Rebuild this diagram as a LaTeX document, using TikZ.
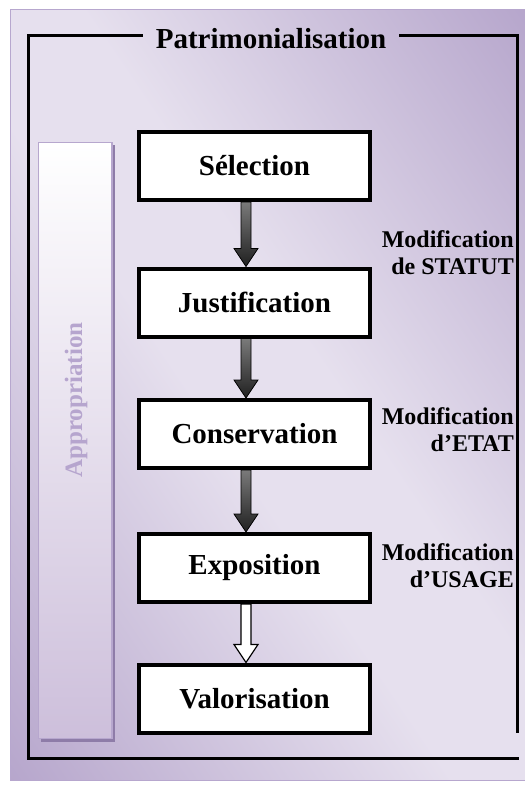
\documentclass[tikz,border=0pt]{standalone}
\usepackage{fontspec}
\setmainfont{Liberation Serif}
\usetikzlibrary{calc,shadows}
\definecolor{plight}{HTML}{E6E0EE}
\definecolor{pdark}{HTML}{AE9CC6}
\definecolor{pedge}{HTML}{B7A7CE}
\definecolor{barbot}{HTML}{CDBFDB}
\definecolor{barshadow}{HTML}{8E7CA8}
\definecolor{apptext}{HTML}{B6A5CE}
\definecolor{arrtop}{HTML}{7A7A7A}
\definecolor{arrbot}{HTML}{202020}
\pgfdeclareverticalshading{bgshade}{100bp}{color(0bp)=(pdark); color(10bp)=(pdark); color(45bp)=(plight); color(55bp)=(plight); color(90bp)=(pdark); color(100bp)=(pdark)}
\newcommand\flowarrow[3]{%
  \path[#1] let \p1=($(#2.south)+(-8.5pt,0pt)$), \p2=($(#3.north)+(-8.5pt,0pt)$) in
    (\x1-5pt,\y1) -- (\x1+5pt,\y1) -- (\x1+5pt,\y2+18pt) -- (\x1+12pt,\y2+18pt)
    -- (\x1,\y2) -- (\x1-12pt,\y2+18pt) -- (\x1-5pt,\y2+18pt) -- cycle;}
\begin{document}
\begin{tikzpicture}[x=1pt,y=-1pt,
  stepbox/.style={draw=black, line width=4pt, fill=white, minimum width=231pt,
    minimum height=68pt, inner sep=0pt, font=\fontsize{29}{34}\selectfont\bfseries,
    drop shadow={shadow xshift=1.5pt, shadow yshift=-1.5pt, fill=black!55, opacity=1}},
  modlabel/.style={align=right, anchor=east, inner sep=0pt,
    font=\fontsize{24}{27}\selectfont\bfseries},
  frameline/.style={line width=3pt, line join=miter},
  darkarrow/.style={top color=arrtop, bottom color=arrbot, draw=black, line width=0.8pt},
  whitearrow/.style={fill=white, draw=black, line width=1.2pt},
]
\path[use as bounding box] (0,0) rectangle (525,785);
% background
\shade[shading=bgshade, shading angle=-56] (10,9) rectangle (525,780);
\draw[pedge, line width=1pt] (10,9) rectangle (525,780);
% appropriation bar
\fill[barshadow] (41,145) rectangle (115,742);
\path[draw=pedge, line width=1.5pt, top color=white, bottom color=barbot]
  (38.5,142.5) rectangle (112,738.5);
\node[rotate=90, text=apptext, font=\fontsize{25}{30}\selectfont\bfseries] (appr)
  at (76,400) {Appropriation};
% title and frame
\node[font=\fontsize{29}{34}\selectfont\bfseries, inner xsep=13pt, inner ysep=0pt,
  anchor=base] (title) at (271,48) {Patrimonialisation};
\coordinate (ftl) at (28,35);
\coordinate (ftr) at (517,35);
\coordinate (fbl) at (28,758);
\coordinate (fbr) at (519,758);
\coordinate (frend) at (517,733);
\draw[frameline] (title.west |- ftl) -- (ftl) -- (fbl) -- (fbr);
\draw[frameline] (title.east |- ftr) -- (ftr) -- (frend);
% boxes
\node[stepbox] (sel) at (254.5,166) {Sélection};
\node[stepbox] (jus) at (254.5,302.5) {Justification};
\node[stepbox] (con) at (254.5,434) {Conservation};
\node[stepbox] (exp) at (254.5,568) {Exposition};
\node[stepbox] (val) at (254.5,698.5) {Valorisation};
% arrows
\flowarrow{darkarrow}{sel}{jus}
\flowarrow{darkarrow}{jus}{con}
\flowarrow{darkarrow}{con}{exp}
\flowarrow{whitearrow}{exp}{val}
% labels
\node[modlabel] (mstat) at (514,253) {Modification\\de STATUT};
\node[modlabel] (metat) at (514,430) {Modification\\d’ETAT};
\node[modlabel] (musage) at (514,566) {Modification\\d’USAGE};
\end{tikzpicture}
\end{document}
